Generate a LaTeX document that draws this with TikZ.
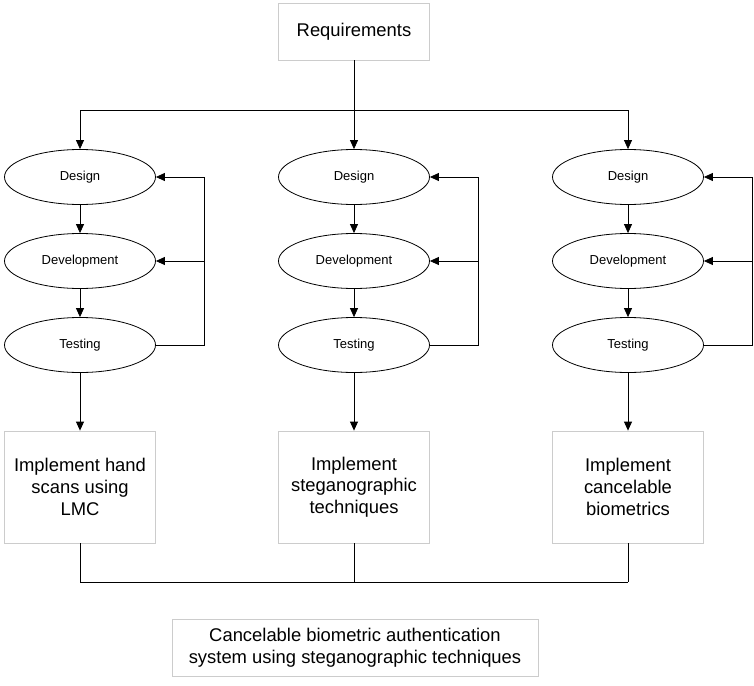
\documentclass[tikz,border=0pt]{standalone}
\usepackage{fontspec}
\setmainfont{Liberation Sans}
\usetikzlibrary{arrows.meta}
\usetikzlibrary{shapes.geometric}

\begin{document}
\begin{tikzpicture}[x=1pt, y=-1pt, line width=0.8pt,
  phase/.style={draw, ellipse, minimum width=151pt, minimum height=55pt, inner sep=0pt, font=\fontsize{13}{15}\selectfont},
  block/.style={draw=black!20, fill=white, minimum width=151pt, minimum height=112pt, align=center, font=\fontsize{18.4}{21.7}\selectfont},
  arr/.style={-{Triangle[length=9pt,width=8pt]}}]
  \useasboundingbox (0,0) rectangle (754,685);
  \node[block, minimum height=57pt](req) at (354,31.5) {Requirements};
  \coordinate (split) at (354,110);
  \coordinate (join) at (354,582);
  \foreach \x/\i/\txt in {80/1/{Implement hand\\scans using\\LMC}, 354/2/{Implement\\steganographic\\techniques}, 628/3/{Implement\\cancelable\\biometrics}} {
    \node[phase](des\i) at (\x,177) {Design};
    \node[phase](dev\i) at (\x,261) {Development};
    \node[phase](tst\i) at (\x,345) {Testing};
    \node[block](impl\i) at (\x,487) {\txt};
    \coordinate (fb\i) at (\x+124,261);
    \draw[arr] (split -| des\i) -- (des\i);
    \draw[arr] (des\i) -- (dev\i);
    \draw[arr] (dev\i) -- (tst\i);
    \draw[arr] (tst\i) -- (impl\i);
    \draw[arr] (tst\i.east) -| (fb\i |- des\i.east) -- (des\i.east);
    \draw[arr] (fb\i) -- (dev\i.east);
    \draw (impl\i) -- (impl\i |- join);
  }
  \draw (req) -- (split);
  \draw (split -| des1) -- (split -| des3);
  \draw (impl1 |- join) -- (impl3 |- join);
  \node[block, minimum width=366pt, minimum height=57pt](goal) at (355,647.5) {Cancelable biometric authentication\\system using steganographic techniques};
\end{tikzpicture}
\end{document}
